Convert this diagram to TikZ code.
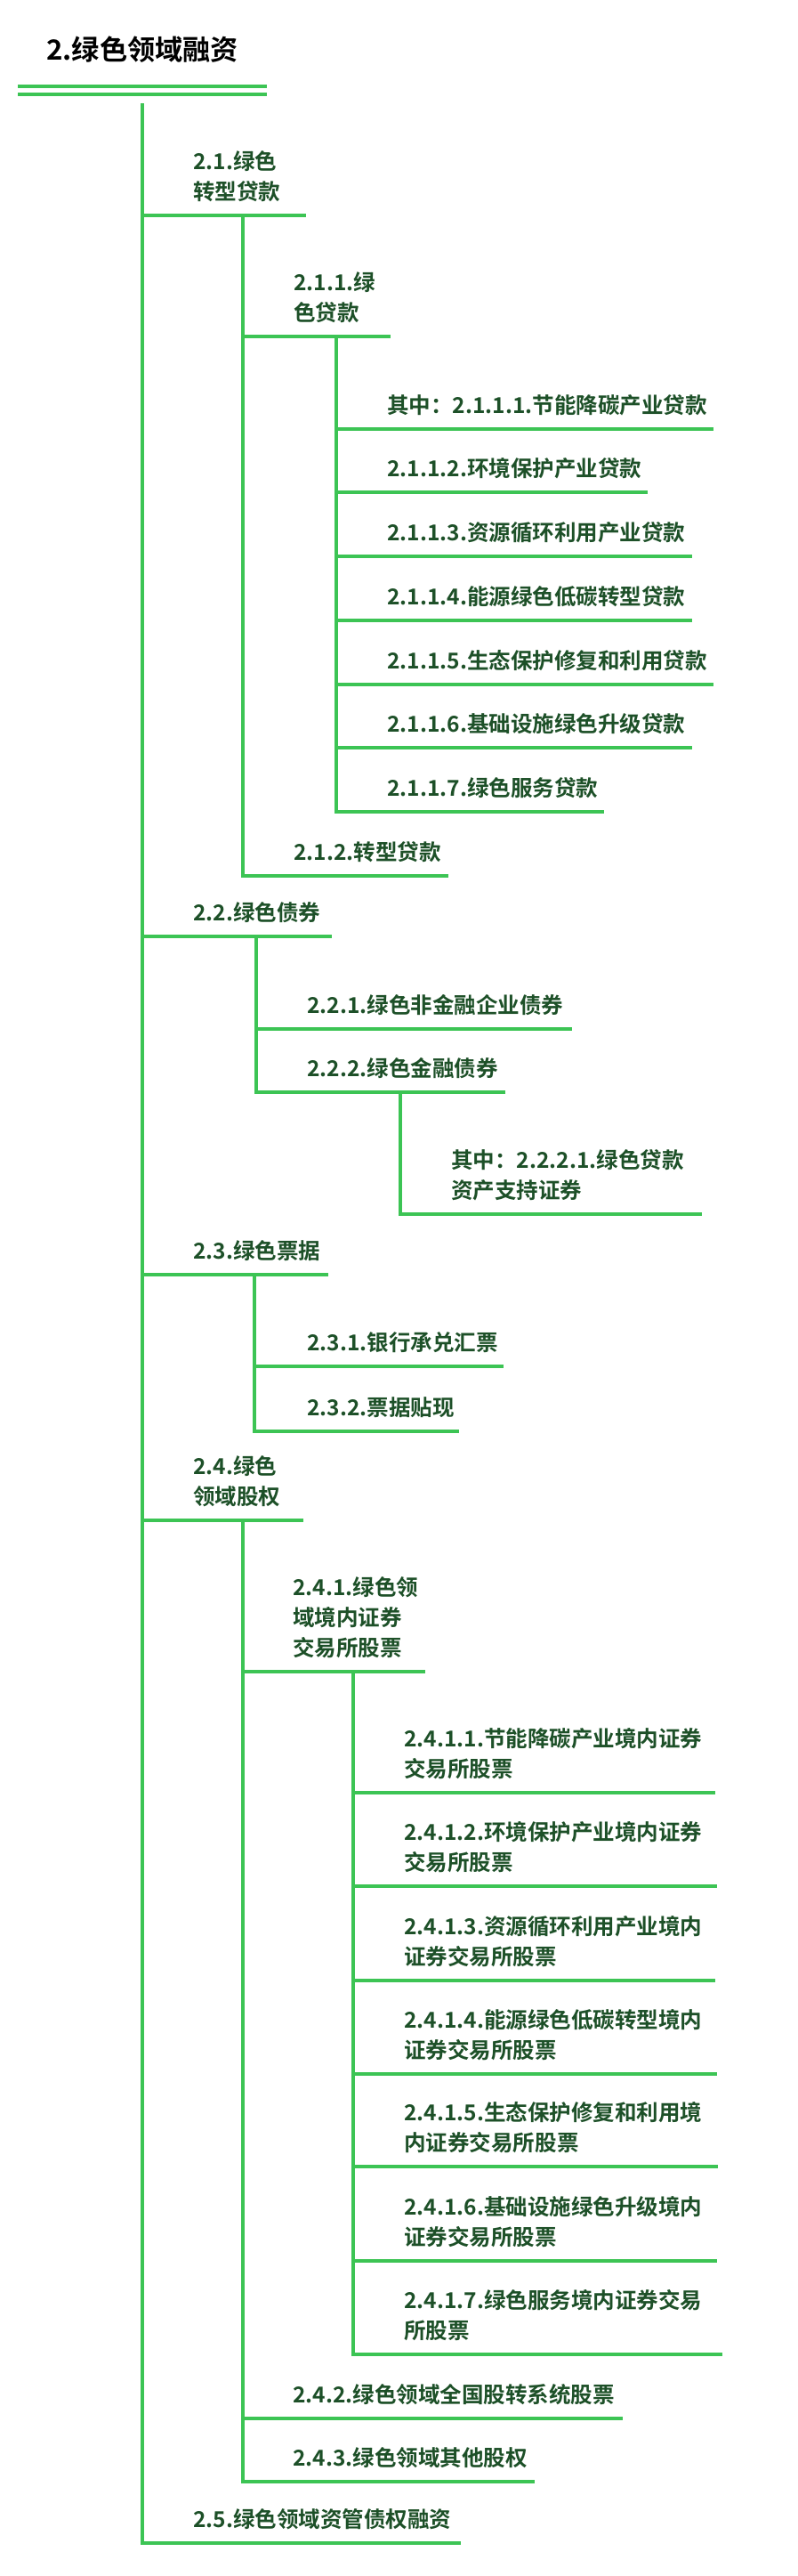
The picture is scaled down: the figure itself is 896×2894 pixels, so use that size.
\documentclass[tikz,border=0pt]{standalone}
\usepackage{fontspec}
\newfontfamily\cjk{Noto Sans CJK SC}[BoldFont={Noto Sans CJK SC Bold}]
\definecolor{linegreen}{HTML}{3CC454}
\definecolor{textgreen}{HTML}{1D5028}
\tikzset{
  treeline/.style={draw=linegreen, line width=2.8pt, line cap=rect},
  itemtext/.style={anchor=base west, inner sep=0pt, align=left, text=textgreen}
}
\begin{document}
\begin{tikzpicture}[x=0.75pt, y=-0.75pt, font=\cjk\bfseries\fontsize{18.4}{25.5}\selectfont]
  \useasboundingbox (0,0) rectangle (896,2894);
  \node[anchor=base west, inner sep=0pt, font=\cjk\bfseries\fontsize{23.4}{28}\selectfont] (title) at (52,68) {2.绿色领域融资};
  \draw[linegreen, line width=2.6pt] (20,97) -- (300,97);
  \draw[linegreen, line width=2.6pt] (20,106) -- (300,106);
  \coordinate (root) at (160,118);
  \foreach \n/\bx/\tx/\ly/\ex/\t in {
      21/160/217/242/342/2.1.绿色\\转型贷款,
      211/273/330/378/437/2.1.1.绿\\色贷款,
      2111/378/435/482/800/其中：2.1.1.1.节能降碳产业贷款,
      2112/378/435/553/726/2.1.1.2.环境保护产业贷款,
      2113/378/435/625/776/2.1.1.3.资源循环利用产业贷款,
      2114/378/435/697/776/2.1.1.4.能源绿色低碳转型贷款,
      2115/378/435/769/800/2.1.1.5.生态保护修复和利用贷款,
      2116/378/435/840/776/2.1.1.6.基础设施绿色升级贷款,
      2117/378/435/912/677/2.1.1.7.绿色服务贷款,
      212/273/330/984/502/2.1.2.转型贷款,
      22/160/217/1052/371/2.2.绿色债券,
      221/288/345/1156/641/2.2.1.绿色非金融企业债券,
      222/288/345/1227/566/2.2.2.绿色金融债券,
      2221/450/507/1364/787/其中：2.2.2.1.绿色贷款\\资产支持证券,
      23/160/217/1432/367/2.3.绿色票据,
      231/286/345/1535/564/2.3.1.银行承兑汇票,
      232/286/345/1608/514/2.3.2.票据贴现,
      24/160/217/1708/339/2.4.绿色\\领域股权,
      241/273/329/1878/476/2.4.1.绿色领\\域境内证券\\交易所股票,
      2411/397/454/2014/802/2.4.1.1.节能降碳产业境内证券\\交易所股票,
      2412/397/454/2119/804/2.4.1.2.环境保护产业境内证券\\交易所股票,
      2413/397/454/2225/802/2.4.1.3.资源循环利用产业境内\\证券交易所股票,
      2414/397/454/2330/804/2.4.1.4.能源绿色低碳转型境内\\证券交易所股票,
      2415/397/454/2434/805/2.4.1.5.生态保护修复和利用境\\内证券交易所股票,
      2416/397/454/2540/804/2.4.1.6.基础设施绿色升级境内\\证券交易所股票,
      2417/397/454/2645/810/2.4.1.7.绿色服务境内证券交易\\所股票,
      242/273/329/2717/698/2.4.2.绿色领域全国股转系统股票,
      243/273/329/2788/599/2.4.3.绿色领域其他股权,
      25/160/217/2857/516/2.5.绿色领域资管债权融资}
  {
    \coordinate (a\n) at (\bx,\ly);
    \coordinate (b\n) at (\ex,\ly);
    \node[itemtext] (t\n) at (\tx,\ly-18) {\t};
    \draw[treeline] (a\n) -- (b\n);
  }
  \draw[treeline] (root) -- (a25);
  \draw[treeline] (a211 |- a21) -- (a212);
  \draw[treeline] (a2111 |- a211) -- (a2117);
  \draw[treeline] (a221 |- a22) -- (a222);
  \draw[treeline] (a2221 |- a222) -- (a2221);
  \draw[treeline] (a231 |- a23) -- (a232);
  \draw[treeline] (a241 |- a24) -- (a243);
  \draw[treeline] (a2411 |- a241) -- (a2417);
\end{tikzpicture}
\end{document}
